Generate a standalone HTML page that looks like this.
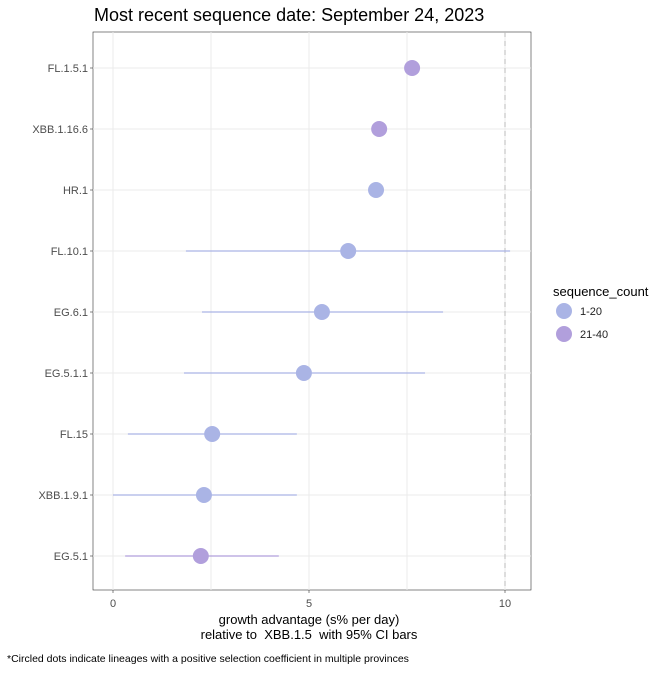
<!DOCTYPE html>
<html><head><meta charset="utf-8"><style>
body{margin:0;background:#fff;font-family:"Liberation Sans",sans-serif}
</style></head><body>
<svg id="chart" width="672" height="672" xmlns="http://www.w3.org/2000/svg" font-family="Liberation Sans, sans-serif">
<text x="94" y="21" font-size="18" fill="#000">Most recent sequence date: September 24, 2023</text>
<rect x="93" y="32" width="438" height="558" fill="#fff" stroke="#333" stroke-width="0.6"/>
<g id="grid"></g>
<g id="marks"></g>
<g id="axes"></g>
<text x="309" y="624" font-size="13" text-anchor="middle" fill="#000">growth advantage (s% per day)</text>
<text x="309" y="639" font-size="13" text-anchor="middle" fill="#000" style="white-space:pre">relative to  XBB.1.5  with 95% CI bars</text>
<text x="7" y="662" font-size="10.5" fill="#000">*Circled dots indicate lineages with a positive selection coefficient in multiple provinces</text>
<text x="553" y="296" font-size="13" fill="#000">sequence_count</text>
<g><circle cx="564" cy="311" r="8" fill="#aab4e5"/><text x="580" y="315" font-size="11" fill="#222">1-20</text></g>
<g><circle cx="564" cy="334" r="8" fill="#b19fdc"/><text x="580" y="338" font-size="11" fill="#222">21-40</text></g>
</svg>
<script>
const categories=["FL.1.5.1","XBB.1.16.6","HR.1","FL.10.1","EG.6.1","EG.5.1.1","FL.15","XBB.1.9.1","EG.5.1"];
const values=[7.63,6.79,6.71,6.0,5.33,4.87,2.53,2.32,2.24];
const lower=[null,null,null,1.86,2.27,1.81,0.38,0.0,0.31];
const upper=[null,null,null,10.13,8.42,7.96,4.69,4.69,4.23];
const groups=["21-40","21-40","1-20","1-20","1-20","1-20","1-20","1-20","21-40"];
const xTicks=[0,5,10];
const xMinor=[2.5,7.5];
const refLine=10;
const NS="http://www.w3.org/2000/svg";
const xs=v=>113+v*39.2;
const ys=i=>68+i*61;
const col=g=>g==="1-20"?"#aab4e5":"#b19fdc";
function mk(p,t,a){const e=document.createElementNS(NS,t);for(const k in a)e.setAttribute(k,a[k]);p.appendChild(e);return e;}
const grid=document.getElementById('grid'),marks=document.getElementById('marks'),axes=document.getElementById('axes');
xMinor.concat(xTicks).forEach(v=>{const l=mk(grid,'line',{x1:xs(v),x2:xs(v),y1:32,y2:590,stroke:'#ebebeb','stroke-width':1});

});
categories.forEach((c,i)=>{const l=mk(grid,'line',{x1:93,x2:531,y1:ys(i),y2:ys(i),stroke:'#ebebeb','stroke-width':1});


const t=mk(axes,'text',{x:88,y:ys(i)+4,'font-size':11,'text-anchor':'end',fill:'#4d4d4d'});t.textContent=c;


mk(axes,'line',{x1:90,x2:93,y1:ys(i),y2:ys(i),stroke:'#333','stroke-width':0.6});});
xTicks.forEach(v=>{const t=mk(axes,'text',{x:xs(v),y:607,'font-size':11,'text-anchor':'middle',fill:'#4d4d4d'});t.textContent=v;


mk(axes,'line',{x1:xs(v),x2:xs(v),y1:590,y2:593,stroke:'#333','stroke-width':0.6});});
const rl=mk(marks,'line',{x1:xs(refLine),x2:xs(refLine),y1:32,y2:590,stroke:'#bbb','stroke-width':1,'stroke-dasharray':'5,4'});


categories.forEach((c,i)=>{
if(lower[i]!==null){const l=mk(marks,'line',{x1:xs(lower[i]),x2:xs(upper[i]),y1:ys(i),y2:ys(i),stroke:col(groups[i]),'stroke-width':1.3});

}
const p=mk(marks,'circle',{cx:xs(values[i]),cy:ys(i),r:8,fill:col(groups[i])});

});
</script>
</body></html>
